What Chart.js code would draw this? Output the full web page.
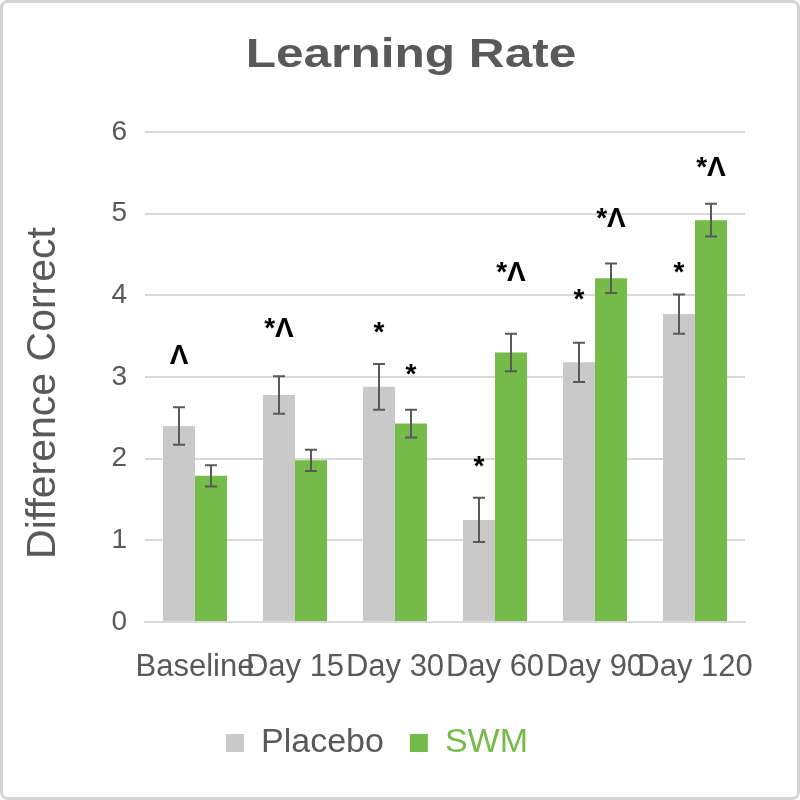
<!DOCTYPE html>
<html>
<head>
<meta charset="utf-8">
<script src="https://cdn.jsdelivr.net/npm/chart.js@4.4.1/dist/chart.umd.min.js"></script>
<style>
  html, body { margin: 0; padding: 0; background: #fff; }
  #wrap { width: 800px; height: 800px; }
</style>
</head>
<body>
<div id="wrap"><canvas id="myChart" width="800" height="800"></canvas></div>
<script>
const categories = ['Baseline', 'Day 15', 'Day 30', 'Day 60', 'Day 90', 'Day 120'];
const placebo = [2.40, 2.78, 2.88, 1.25, 3.18, 3.77];
const placeboErr = [0.23, 0.23, 0.28, 0.27, 0.24, 0.24];
const swm = [1.79, 1.98, 2.43, 3.30, 4.21, 4.92];
const swmErr = [0.13, 0.13, 0.17, 0.23, 0.18, 0.20];
// significance marks drawn above the bars, and the height (in y units) where they sit
const placeboMarks = ['Λ', '*Λ', '*', '*', '*', '*'];
const placeboMarkY = [3.25, 3.58, 3.60, 1.95, 4.00, 4.33];
const swmMarks = ['', '', '*', '*Λ', '*Λ', '*Λ'];
const swmMarkY = [null, null, 3.08, 4.27, 4.93, 5.55];

const chartTitle = 'Learning Rate';
const yTitle = 'Difference Correct';

const textGrey = '#595959';
const greyBar = '#c9c9c9';
const greenBar = '#74bb4a';
const fontFamily = '"Liberation Sans", Arial, sans-serif';

Chart.defaults.font.family = fontFamily;
Chart.defaults.color = textGrey;

// white background and the light rounded frame round the picture
const frame = {
    id: 'frame',
    beforeDraw(chart) {
        const ctx = chart.ctx;
        ctx.save();
        ctx.fillStyle = '#fff';
        ctx.fillRect(0, 0, chart.width, chart.height);
        ctx.strokeStyle = '#d4d4d4';
        ctx.lineWidth = 3;
        ctx.beginPath();
        ctx.roundRect(1.5, 1.5, chart.width - 3, chart.height - 3, 6);
        ctx.stroke();
        ctx.restore();
    }
};

// title and y-axis title are drawn here because they are not centred where chart.js would put them
const titles = {
    id: 'titles',
    afterDraw(chart) {
        const ctx = chart.ctx;
        const area = chart.chartArea;
        ctx.save();
        ctx.fillStyle = textGrey;
        ctx.textAlign = 'center';
        ctx.textBaseline = 'alphabetic';
        ctx.font = 'bold 40px ' + fontFamily;
        ctx.translate(411, 67);
        ctx.scale(1.24, 1);
        ctx.fillText(chartTitle, 0, 0);
        ctx.restore();

        ctx.save();
        ctx.fillStyle = textGrey;
        ctx.textAlign = 'center';
        ctx.textBaseline = 'middle';
        ctx.font = '41px ' + fontFamily;
        ctx.translate(44, (area.top + area.bottom) / 2 + 16);
        ctx.rotate(-Math.PI / 2);
        ctx.fillText(yTitle, 0, 0);
        ctx.restore();
    }
};

const errorBars = {
    id: 'errorBars',
    afterDatasetsDraw(chart) {
        const ctx = chart.ctx;
        const y = chart.scales.y;
        const errs = [placeboErr, swmErr];
        const vals = [placebo, swm];
        const marks = [placeboMarks, swmMarks];
        const markY = [placeboMarkY, swmMarkY];
        ctx.save();
        ctx.strokeStyle = textGrey;
        ctx.lineWidth = 2;
        for (let d = 0; d < 2; d++) {
            chart.getDatasetMeta(d).data.forEach((bar, i) => {
                const top = y.getPixelForValue(vals[d][i] + errs[d][i]);
                const bot = y.getPixelForValue(vals[d][i] - errs[d][i]);
                ctx.beginPath();
                ctx.moveTo(bar.x, top); ctx.lineTo(bar.x, bot);
                ctx.moveTo(bar.x - 6, top); ctx.lineTo(bar.x + 6, top);
                ctx.moveTo(bar.x - 6, bot); ctx.lineTo(bar.x + 6, bot);
                ctx.stroke();
            });
        }
        ctx.fillStyle = '#000';
        ctx.font = 'bold 28px ' + fontFamily;
        ctx.textAlign = 'center';
        ctx.textBaseline = 'middle';
        for (let d = 0; d < 2; d++) {
            chart.getDatasetMeta(d).data.forEach((bar, i) => {
                const m = marks[d][i];
                if (!m) return;
                const py = y.getPixelForValue(markY[d][i]) + (m === '*' ? 5 : 0);
                ctx.fillText(m, bar.x, py);
            });
        }
        ctx.restore();
    }
};

const ctx = document.getElementById('myChart').getContext('2d');
const myChart = new Chart(ctx, {
    type: 'bar',
    data: {
        labels: categories,
        datasets: [
            { label: 'Placebo', data: placebo, backgroundColor: greyBar },
            { label: 'SWM', data: swm, backgroundColor: greenBar }
        ]
    },
    options: {
        responsive: false,
        animation: false,
        categoryPercentage: 0.64,
        barPercentage: 1,
        layout: { padding: { left: 0, right: 46, top: 132, bottom: 30 } },
        scales: {
            x: {
                grid: { display: false, drawTicks: false },
                border: { color: '#d9d9d9', width: 2 },
                ticks: { font: { size: 31 }, color: textGrey, autoSkip: false, maxRotation: 0, padding: 27 },
                afterFit: s => { s.height = 78; }
            },
            y: {
                min: 0,
                max: 6,
                ticks: { stepSize: 1, font: { size: 28 }, color: textGrey, padding: 18 },
                grid: { color: '#d9d9d9', lineWidth: 2, drawTicks: false },
                border: { display: false },
                afterFit: s => { s.width = 145; }
            },
            // empty right-hand axis that only reserves the space right of the plot
            yRight: {
                position: 'right',
                display: true,
                ticks: { display: false },
                grid: { display: false, drawTicks: false },
                border: { display: false },
                afterFit: s => { s.width = 9; }
            }
        },
        plugins: {
            legend: {
                position: 'bottom',
                labels: {
                    font: { size: 34 },
                    boxWidth: 18,
                    boxHeight: 18,
                    padding: 26,
                    generateLabels: chart => chart.data.datasets.map((ds, i) => ({
                        text: ds.label,
                        fillStyle: ds.backgroundColor,
                        strokeStyle: ds.backgroundColor,
                        lineWidth: 0,
                        fontColor: i === 0 ? textGrey : greenBar,
                        datasetIndex: i
                    }))
                }
            },
            tooltip: { enabled: false }
        }
    },
    plugins: [frame, titles, errorBars]
});
</script>
</body>
</html>
